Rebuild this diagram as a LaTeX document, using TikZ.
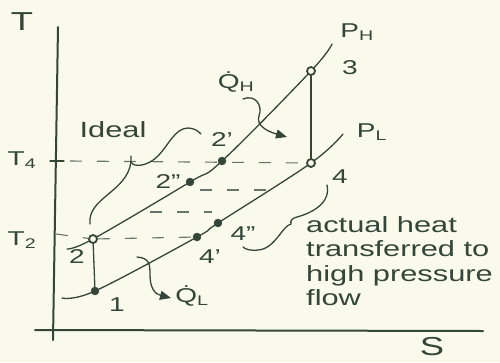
\documentclass[tikz,border=0pt]{standalone}
\usepackage{fontspec}
\setmainfont{Liberation Sans}[FakeStretch=1.4]
\usetikzlibrary{arrows.meta}
\definecolor{ink}{RGB}{52,70,56}
\definecolor{paper}{RGB}{250,250,236}
\begin{document}
\begin{tikzpicture}[x=1pt,y=-1pt,
  inkline/.style={draw=ink, line width=1.3pt, line cap=round},
  axisline/.style={draw=ink, line width=2pt, line cap=round},
  dashline/.style={draw=ink!75, line width=1.1pt, dash pattern=on 12pt off 15pt},
  fulldot/.style={circle, fill=ink, draw=ink, inner sep=0pt, minimum size=8pt},
  ringdot/.style={circle, fill=paper, draw=ink, line width=1.8pt, inner sep=0pt, minimum size=8pt},
  lbl/.style={text=ink, inner sep=0pt, font=\fontsize{20}{22}\selectfont},
  biglbl/.style={text=ink, inner sep=0pt, font=\fontsize{26}{28}\selectfont},
  notetext/.style={text=ink, inner sep=0pt, font=\fontsize{22}{24.5}\selectfont},
  heatarrow/.style={inkline, -{Triangle[length=11pt,width=9pt]}}]
\fill[paper] (0,0) rectangle (500,362);
\useasboundingbox (0,0) rectangle (500,362);

% axes
\coordinate (ytop) at (58,27);
\coordinate (ybot) at (53,340);
\coordinate (xleft) at (35,330);
\coordinate (xright) at (483,331);
\draw[axisline] (ytop) -- (ybot);
\draw[axisline] (xleft) -- (xright);
\node[biglbl] (Tlab) at (22,22) {T};
\node[biglbl] (Slab) at (432,347) {S};

% state positions
\coordinate (c1) at (95,291);
\coordinate (c2) at (93,239);
\coordinate (c2a) at (222,161);
\coordinate (c2b) at (190,182);
\coordinate (c3) at (311,71);
\coordinate (c4) at (311,163);
\coordinate (c4a) at (197,237);
\coordinate (c4b) at (218,223);
\coordinate (uS) at (67,249);
\coordinate (uE) at (332,44);
\coordinate (lS) at (62,298);
\coordinate (lE) at (343,134);

% isobars
\draw[inkline] plot[smooth, tension=0.6] coordinates {(uS) (c2) (c2b) (c2a) (c3) (uE)};
\draw[inkline] plot[smooth, tension=0.6] coordinates {(lS) (c1) (c4a) (c4b) (c4) (lE)};
\node[lbl] (PH) at (357,32) {P\textsubscript{H}};
\node[lbl] (PL) at (372,132) {P\textsubscript{L}};

% temperature levels
\coordinate (t4a) at (50,161);
\coordinate (t4b) at (64,161);
\coordinate (t4s) at (70,161);
\coordinate (t2s) at (56,234);
\draw[inkline] (t4a) -- (t4b);
\node[lbl] (T4) at (22,160) {T\textsubscript{4}};
\node[lbl] (T2) at (22,240) {T\textsubscript{2}};

% middle dashed levels
\coordinate (m1a) at (200,190);
\coordinate (m1b) at (266,190);
\coordinate (m2a) at (150,212);
\coordinate (m2b) at (212,212);
\draw[dashline] (m1a) -- (m1b);
\draw[dashline] (m2a) -- (m2b);

% points
\node[fulldot] (n1) at (c1) {};
\node[ringdot] (n2) at (c2) {};
\node[fulldot] (n2a) at (c2a) {};
\node[fulldot] (n2b) at (c2b) {};
\node[ringdot] (n3) at (c3) {};
\node[ringdot] (n4) at (c4) {};
\node[fulldot] (n4a) at (c4a) {};
\node[fulldot] (n4b) at (c4b) {};

\draw[dashline] (t4s) -- (n4);
\draw[dashline] (t2s) -- (n2);
\draw[dashline] (n2) -- (n4a);
\draw[inkline] (n3) -- (n4);
\draw[inkline] (n2) -- (n1);

% point labels
\node[lbl] (l1) at (117,305) {1};
\node[lbl] (l2) at (77,257) {2};
\node[lbl] (l2a) at (222,140) {2'};
\node[lbl] (l2b) at (168,182) {2''};
\node[lbl] (l3) at (350,68) {3};
\node[lbl] (l4) at (340,177) {4};
\node[lbl] (l4a) at (210,257) {4'};
\node[lbl] (l4b) at (243,234) {4''};

% heat flows
\node[lbl] (QH) at (236,82) {\.{Q}\textsubscript{H}};
\node[lbl] (QL) at (192,296) {\.{Q}\textsubscript{L}};
\coordinate (qhs) at (243,99);
\coordinate (qhe) at (287,137);
\coordinate (qls) at (137,257);
\coordinate (qle) at (171,298);
\draw[heatarrow] (qhs) .. controls (255,94) and (263,105) .. (259,116) .. controls (256,125) and (266,131) .. (qhe);
\draw[heatarrow] (qls) .. controls (150,258) and (150,265) .. (150,275) .. controls (150,288) and (155,294) .. (qle);

% ideal brace
\node[notetext] (ideal) at (113,130) {Ideal};
\coordinate (ib1) at (90,224);
\coordinate (ibt) at (131,156);
\coordinate (ib2) at (201,134);
\draw[inkline] (ib1) .. controls (87,198) and (127,192) .. (131,162) -- (ibt);
\draw[inkline] (131,162) .. controls (134,168) and (148,166) .. (158,156) .. controls (168,146) and (175,128) .. (188,128) .. controls (194,128) and (198,131) .. (ib2);

% actual brace
\coordinate (ab1) at (327,185);
\coordinate (ab2) at (243,247);
\draw[inkline] (ab1) .. controls (331,203) and (312,213) .. (297,217) .. controls (292,218) and (290,221) .. (291,224) .. controls (282,226) and (275,249) .. (258,250) .. controls (250,251) and (245,249) .. (ab2);
\node[notetext, anchor=north west, align=left] (actual) at (306,216) {actual heat\\transferred to\\high pressure\\flow};
\end{tikzpicture}
\end{document}
